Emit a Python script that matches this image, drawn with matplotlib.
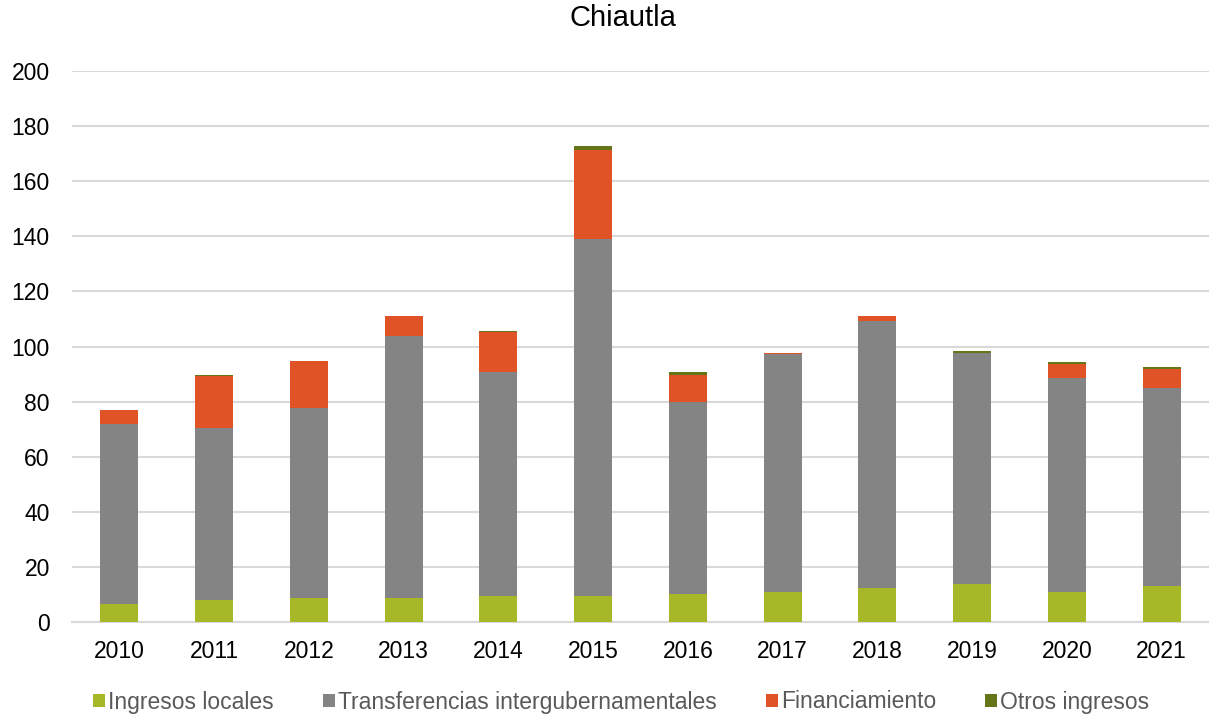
import matplotlib
matplotlib.use("Agg")
import matplotlib.pyplot as plt
import numpy as np

plt.rcParams['font.family'] = ['Liberation Sans', 'DejaVu Sans']

years = ['2010', '2011', '2012', '2013', '2014', '2015', '2016', '2017', '2018', '2019', '2020', '2021']
ingresos_locales = [6.6, 8.1, 8.8, 8.8, 9.5, 9.5, 10.2, 11.0, 12.4, 13.9, 11.0, 13.1]
transferencias = [65.3, 62.4, 68.9, 94.9, 81.4, 129.6, 69.7, 86.2, 97.0, 83.9, 77.4, 71.7]
financiamiento = [4.9, 18.7, 17.2, 7.2, 14.2, 32.4, 9.9, 0.6, 1.5, 0.0, 5.1, 7.2]
otros_ingresos = [0.0, 0.6, 0.0, 0.0, 0.7, 1.1, 0.8, 0.0, 0.0, 0.7, 0.7, 0.7]

series = [
    ('Ingresos locales', ingresos_locales, '#A6B828'),
    ('Transferencias intergubernamentales', transferencias, '#848484'),
    ('Financiamiento', financiamiento, '#E05327'),
    ('Otros ingresos', otros_ingresos, '#657618'),
]

fig = plt.figure(figsize=(12.09, 7.19), dpi=100)
ax = fig.add_axes([72/1209, 1-622/719, 1137/1209, (622-71)/719])

x = np.arange(len(years))
bottom = np.zeros(len(years))
handles = []
for name, vals, color in series:
    v = np.array(vals)
    b = ax.bar(x, v, width=0.4, bottom=bottom, color=color, label=name, zorder=3)
    handles.append(b)
    bottom += v

ax.set_xlim(-0.5, len(years) - 0.5)
ax.set_ylim(0, 200)
ax.set_yticks(np.arange(0, 201, 20))
ax.yaxis.grid(True, color='#D9D9D9', linewidth=1.5, zorder=0)
ax.set_axisbelow(True)
for s in ['top', 'right', 'left']:
    ax.spines[s].set_visible(False)
ax.spines['bottom'].set_color('#D9D9D9')
ax.spines['bottom'].set_linewidth(1.5)
ax.tick_params(axis='both', length=0, labelsize=16.5, colors='#000000')
ax.tick_params(axis='y', pad=16)
ax.tick_params(axis='x', pad=13)
ax.set_xticks(x)
ax.set_xticklabels(years)

fig.text(0.515, 1-18/719, 'Chiautla', ha='center', va='center', fontsize=21)

fig.legend(handles=handles, labels=[s[0] for s in series], loc='center',
           bbox_to_anchor=(0.514, 1-702/719), ncol=4, frameon=False,
           fontsize=16.5, handlelength=0.5, handleheight=0.5, handletextpad=0.15,
           columnspacing=2.15, labelcolor='#595959')

fig.savefig('out.png', dpi=100)
